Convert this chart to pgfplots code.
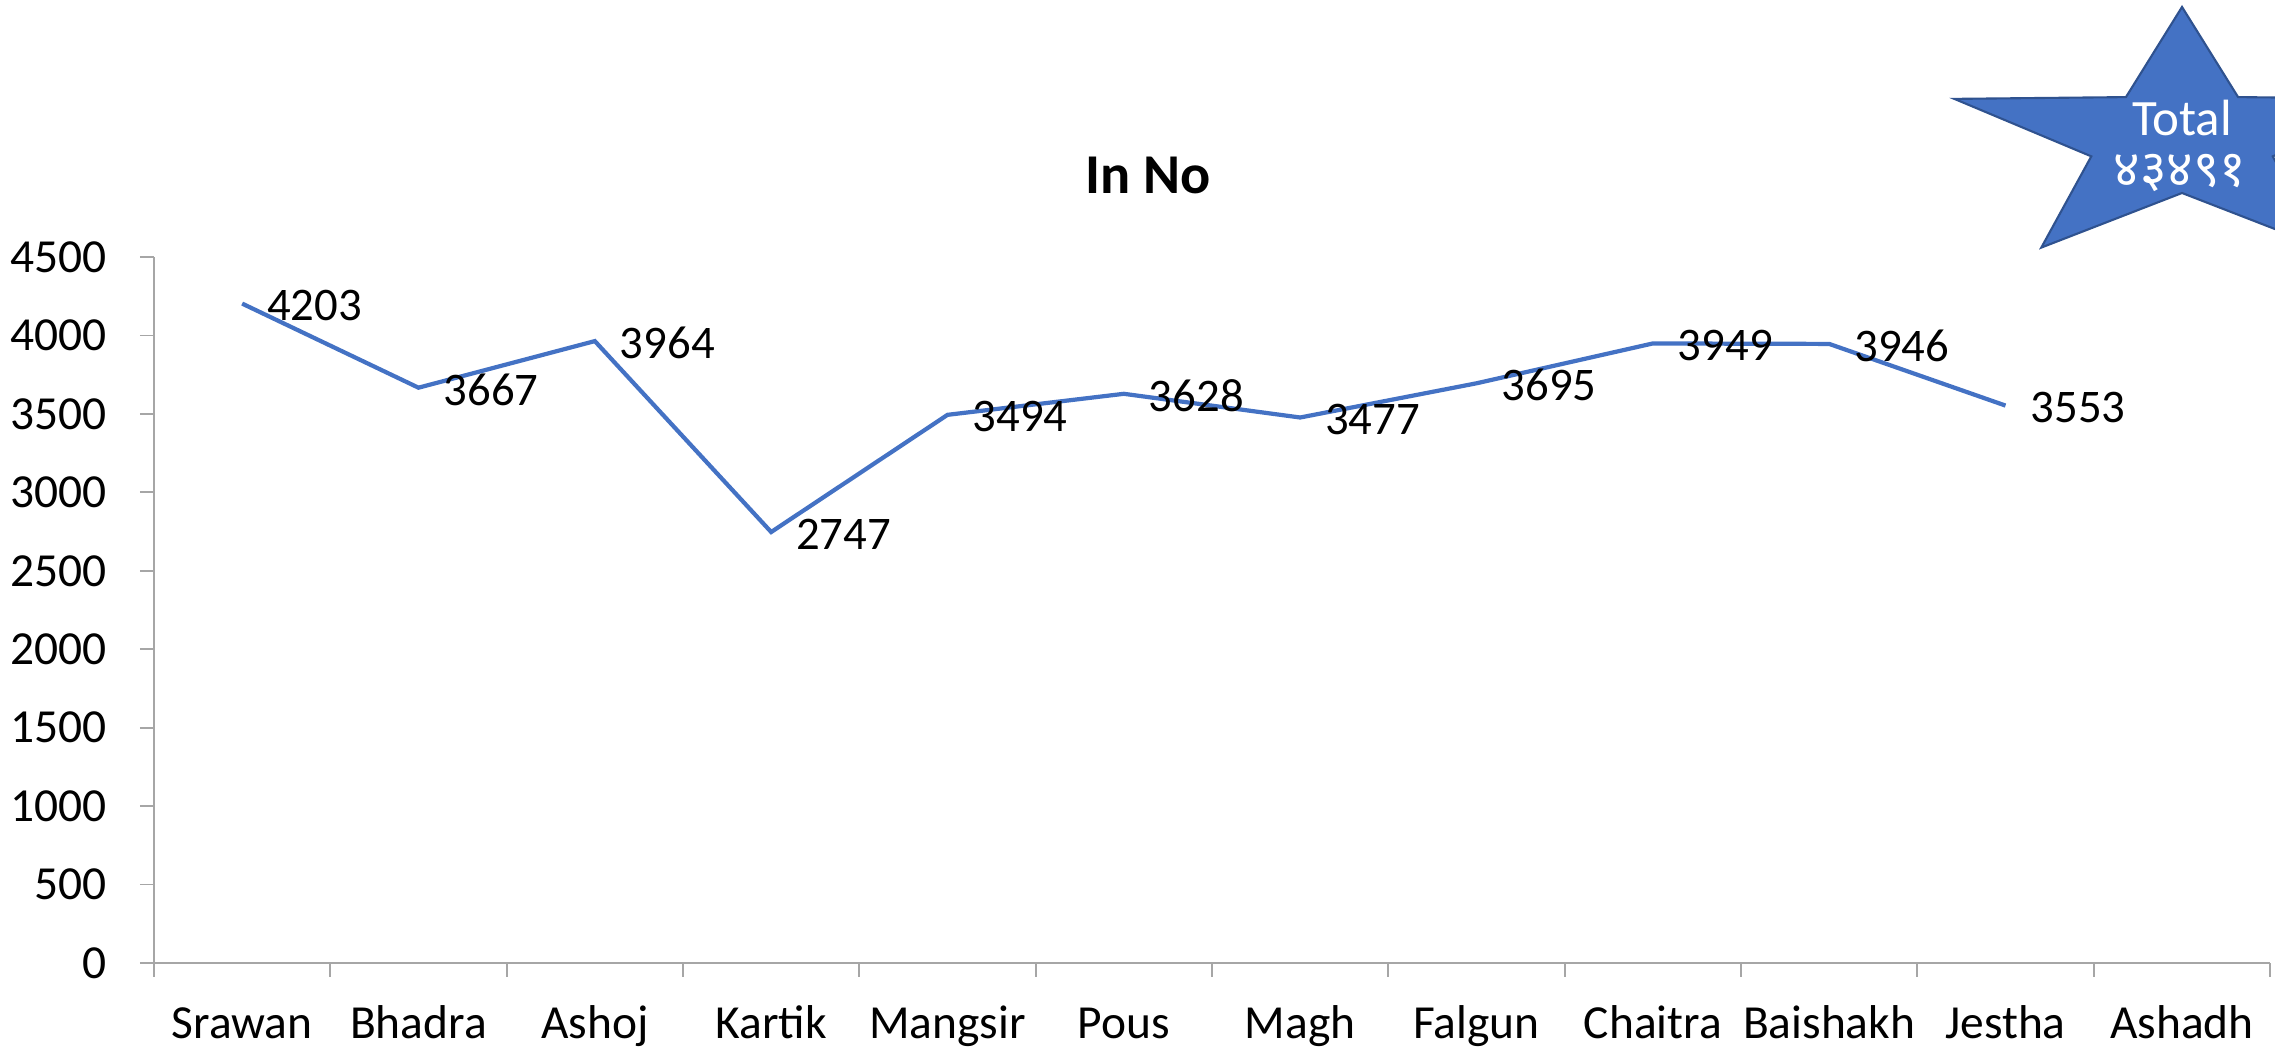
\documentclass[border=0pt]{standalone}
\usepackage{fontspec}
\setmainfont{Carlito}
\newfontfamily\devfont[Script=Devanagari]{Noto Sans}
\usepackage{pgfplots}
\pgfplotsset{compat=1.18}
\definecolor{xlblue}{HTML}{4472C4}
\definecolor{xlborder}{HTML}{2F528F}
\definecolor{axgray}{HTML}{A6A6A6}

\begin{document}
\begin{tikzpicture}
% page = 2275 x 1051 px at 0.01 cm per px
\useasboundingbox (0,0) rectangle (22.75,10.51);
\clip (0,0) rectangle (22.75,10.51);

\begin{axis}[
  at={(1.54cm,0.88cm)}, anchor=south west,
  scale only axis,
  width=21.16cm, height=7.06cm,
  xmin=0.5, xmax=12.5,
  ymin=0, ymax=4500,
  axis x line*=bottom, axis y line*=left,
  axis line style={draw=axgray, line width=0.5pt},
  tick align=outside,
  major tick length=0.14cm,
  tick style={draw=axgray, line width=0.5pt},
  xtick={0.5,1.5,...,12.5},
  xticklabels={},
  extra x ticks={1,...,12},
  extra x tick labels={Srawan,Bhadra,Ashoj,Kartik,Mangsir,Pous,Magh,Falgun,Chaitra,Baishakh,Jestha,Ashadh},
  extra x tick style={major tick length=0pt,
    xticklabel style={anchor=base, yshift=-0.755cm}},
  ytick={0,500,...,4500},
  yticklabel style={xshift=-0.21cm},
  tick label style={font=\fontsize{13.5}{16}\selectfont},
  /pgf/number format/.cd, 1000 sep={}, assume math mode=true,
]
\addplot[xlblue, line width=1.2pt, mark=none,
  nodes near coords,
  every node near coord/.append style={anchor=west, xshift=0.23cm, yshift=-0.02cm, inner sep=0pt,
    font=\fontsize{13.3}{16}\selectfont, text=black}]
  coordinates {
  (1,4203) (2,3667) (3,3964) (4,2747) (5,3494) (6,3628)
  (7,3477) (8,3695) (9,3949) (10,3946) (11,3553)
};
\end{axis}

% title
\node[anchor=base, font=\fontsize{16}{19}\selectfont\bfseries] at (11.48,8.57) {In No};

% star callout
\filldraw[fill=xlblue, draw=xlborder, line width=0.6pt, shift={(21.82,9.11)}, xscale=1.8]
  (90:1.33) -- (126:0.53) -- (162:1.33) -- (198:0.53) -- (234:1.33) --
  (270:0.53) -- (306:1.33) -- (342:0.53) -- (18:1.33) -- (54:0.53) -- cycle;
\node[text=white, font=\fontsize{14.5}{17}\selectfont] at (21.82,9.33) {Total};
\node[text=white, font=\fontsize{14.5}{17}\selectfont\devfont] at (21.80,8.78) {४३४९१};
\end{tikzpicture}
\end{document}
